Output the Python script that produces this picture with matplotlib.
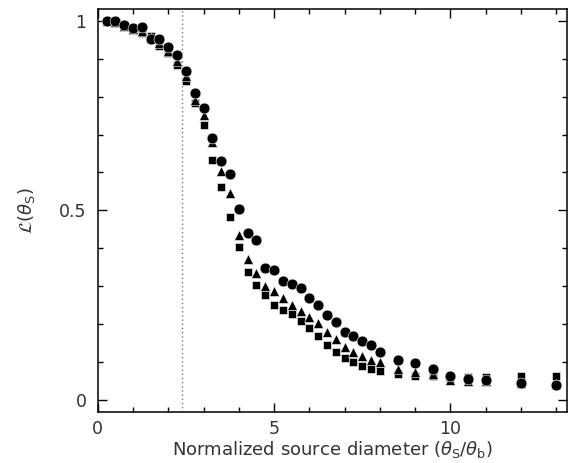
import numpy as np
from matplotlib import pyplot as plt
from matplotlib.ticker import MultipleLocator

# normalized source diameter (theta_S / theta_b)
diam = [0.25, 0.5, 0.75, 1.0, 1.25, 1.5, 1.75, 2.0, 2.25, 2.5, 2.75, 3.0,
        3.25, 3.5, 3.75, 4.0, 4.25, 4.5, 4.75, 5.0, 5.25, 5.5, 5.75, 6.0,
        6.25, 6.5, 6.75, 7.0, 7.25, 7.5, 7.75, 8.0, 8.5, 9.0, 9.5, 10.0,
        10.5, 11.0, 12.0, 13.0]

circles = [1.0, 1.0, 0.989, 0.98, 0.983, 0.951, 0.951, 0.93, 0.91, 0.868, 0.81, 0.77,
           0.692, 0.629, 0.597, 0.504, 0.44, 0.423, 0.348, 0.344, 0.315, 0.306, 0.296, 0.268,
           0.251, 0.225, 0.205, 0.181, 0.168, 0.156, 0.145, 0.127, 0.105, 0.097, 0.081, 0.065,
           0.057, 0.053, 0.046, 0.039]

triangles = [1.0, 0.997, 0.987, 0.978, 0.972, 0.955, 0.94, 0.92, 0.895, 0.855, 0.79, 0.752,
             0.68, 0.605, 0.546, 0.434, 0.373, 0.335, 0.30, 0.287, 0.268, 0.252, 0.236, 0.219,
             0.204, 0.179, 0.16, 0.14, 0.126, 0.116, 0.105, 0.10, 0.083, 0.075, 0.068, 0.052,
             0.05, 0.05, 0.045, 0.042]

squares = [1.0, 0.995, 0.985, 0.975, 0.968, 0.96, 0.933, 0.914, 0.883, 0.84, 0.783, 0.725,
           0.633, 0.563, 0.482, 0.403, 0.338, 0.303, 0.276, 0.252, 0.239, 0.226, 0.208, 0.19,
           0.168, 0.145, 0.128, 0.112, 0.101, 0.091, 0.083, 0.076, 0.068, 0.063, 0.063, 0.058,
           0.06, 0.062, 0.063, 0.063]

beam_line = 2.4

fig = plt.figure(figsize=(5.68, 4.63), dpi=100)
ax = fig.add_axes([0.172, 0.111, 0.826, 0.869])

ax.axvline(beam_line, color='#777777', linestyle=(0, (1, 2)), linewidth=1.0, zorder=1)

ax.plot(diam, squares, linestyle='none', marker='s', markersize=6.2,
        color='black', markeredgecolor='white', markeredgewidth=0.4, zorder=2)
ax.plot(diam, triangles, linestyle='none', marker='^', markersize=7.2,
        color='black', markeredgecolor='white', markeredgewidth=0.4, zorder=3)
ax.plot(diam, circles, linestyle='none', marker='o', markersize=7.8,
        color='black', markeredgecolor='white', markeredgewidth=0.4, zorder=4)

ax.set_xlim(0, 13.3)
ax.set_ylim(-0.03, 1.03)

ax.xaxis.set_major_locator(MultipleLocator(5))
ax.xaxis.set_minor_locator(MultipleLocator(1))
ax.yaxis.set_major_locator(MultipleLocator(0.5))
ax.yaxis.set_minor_locator(MultipleLocator(0.1))

ax.xaxis.set_major_formatter(plt.FuncFormatter(lambda v, p: f'{v:g}'))
ax.yaxis.set_major_formatter(plt.FuncFormatter(lambda v, p: f'{v:g}'))

ax.tick_params(which='both', direction='in', top=True, right=True,
               colors='black', labelcolor='#333333', labelsize=12.5)
ax.tick_params(which='major', length=6.5, width=1)
ax.tick_params(which='minor', length=3.5, width=1)
ax.tick_params(axis='x', pad=6)
ax.tick_params(axis='y', pad=8)

for s in ax.spines.values():
    s.set_linewidth(1.1)

ax.set_xlabel(r'Normalized source diameter ($\theta_{\rm S}/\theta_{\rm b}$)',
              fontsize=13, color='#333333', labelpad=1)
ax.set_ylabel(r'$\mathcal{L}(\theta_{\rm S})$', fontsize=13, color='#333333',
              labelpad=16)

plt.savefig('out.png', dpi=100)
